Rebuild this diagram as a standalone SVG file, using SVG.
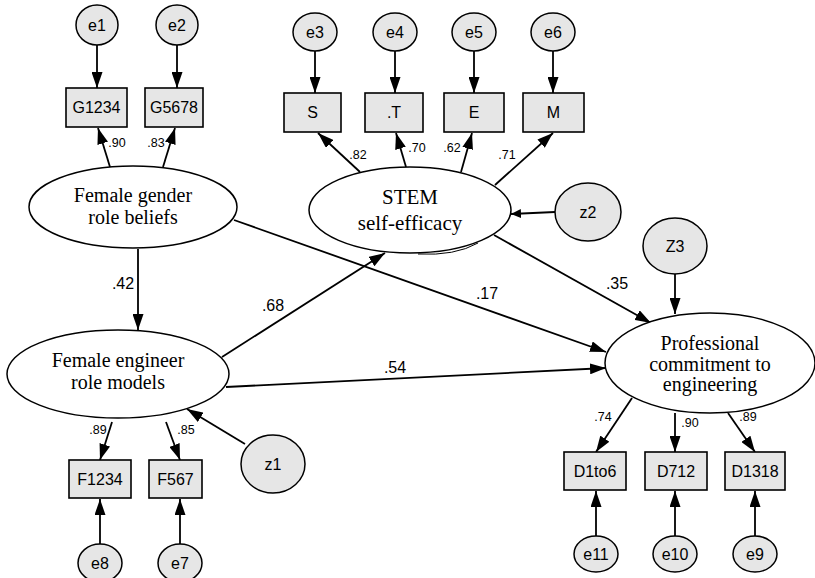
<svg xmlns="http://www.w3.org/2000/svg" width="815" height="578" viewBox="0 0 815 578">
<style>
.bg{fill:#ffffff}
.lat{fill:#ffffff;stroke:#000;stroke-width:1.5}
.obs{fill:#e6e6e6;stroke:#000;stroke-width:1.6}
.err{fill:#e6e6e6;stroke:#000;stroke-width:1.5}
.lt{font-family:"Liberation Serif","Times New Roman",serif;font-size:20px;text-anchor:middle;fill:#000}
.lt2{font-family:"Liberation Serif","Times New Roman",serif;font-size:21px;text-anchor:middle;fill:#000}
.st{font-family:"Liberation Sans",Arial,sans-serif;font-size:16px;text-anchor:middle;fill:#000}
.ld{font-family:"Liberation Sans",Arial,sans-serif;font-size:12.5px;text-anchor:middle;fill:#000}
.cf{font-family:"Liberation Sans",Arial,sans-serif;font-size:16px;text-anchor:middle;fill:#000}
.c{fill:none;stroke:#000;stroke-width:1.8;marker-end:url(#ah)}
.cs{fill:none;stroke:#000;stroke-width:1.8;marker-end:url(#ahs)}
</style>
<defs>
<marker id="ah" viewBox="0 0 16 11" refX="16" refY="5.5" markerWidth="16" markerHeight="11" markerUnits="userSpaceOnUse" orient="auto">
<path d="M0,0 L16,5.5 L0,11 z" fill="#000"/>
</marker>
<marker id="ahs" viewBox="0 0 10 9" refX="10" refY="4.5" markerWidth="10" markerHeight="9" markerUnits="userSpaceOnUse" orient="auto">
<path d="M0,0 L10,4.5 L0,9 z" fill="#000"/>
</marker>
</defs>
<rect class="bg" x="0" y="0" width="815" height="578"/>

<g id="connectors">
<line class="c" x1="97" y1="45" x2="97" y2="88"/>
<line class="c" x1="177" y1="45" x2="177" y2="88"/>
<line class="c" x1="110" y1="167" x2="98" y2="128"/>
<line class="c" x1="163" y1="167" x2="175" y2="128"/>
<line class="c" x1="315" y1="51" x2="315" y2="93"/>
<line class="c" x1="395" y1="51" x2="395" y2="93"/>
<line class="c" x1="474" y1="51" x2="474" y2="93"/>
<line class="c" x1="553" y1="51" x2="553" y2="93"/>
<line class="c" x1="360" y1="172" x2="318" y2="133"/>
<line class="c" x1="406" y1="167" x2="396" y2="133"/>
<line class="c" x1="461" y1="172" x2="472" y2="133"/>
<line class="c" x1="495" y1="185" x2="553" y2="133"/>
<line class="cs" x1="555" y1="212" x2="511" y2="214"/>
<line class="c" x1="138" y1="249" x2="138" y2="330"/>
<line class="c" x1="222" y1="357" x2="385" y2="253"/>
<line class="c" x1="234" y1="220" x2="606" y2="352"/>
<line class="c" x1="226" y1="387" x2="606" y2="368"/>
<line class="c" x1="494" y1="235" x2="651" y2="323"/>
<line class="c" x1="675" y1="274" x2="675" y2="314"/>
<line class="c" x1="632" y1="398" x2="596" y2="452"/>
<line class="c" x1="675" y1="413" x2="675" y2="452"/>
<line class="c" x1="728" y1="413" x2="755" y2="452"/>
<line class="c" x1="596" y1="536" x2="596" y2="491"/>
<line class="c" x1="675" y1="536" x2="675" y2="491"/>
<line class="c" x1="755" y1="536" x2="755" y2="491"/>
<line class="c" x1="112" y1="422" x2="100" y2="460"/>
<line class="c" x1="166" y1="422" x2="180" y2="460"/>
<line class="c" x1="100" y1="544" x2="100" y2="499"/>
<line class="c" x1="180" y1="544" x2="180" y2="499"/>
<line class="c" x1="245" y1="444" x2="187" y2="409"/>
<path d="M418,254 Q455,256 478,243" fill="none" stroke="#000" stroke-width="1"/>
</g>

<g id="labels">
<text class="ld" x="117" y="147">.90</text>
<text class="ld" x="156" y="147">.83</text>
<text class="ld" x="358" y="159">.82</text>
<text class="ld" x="417" y="152">.70</text>
<text class="ld" x="452" y="152">.62</text>
<text class="ld" x="507" y="159">.71</text>
<text class="cf" x="123" y="289">.42</text>
<text class="cf" x="273" y="311">.68</text>
<text class="cf" x="487" y="299">.17</text>
<text class="cf" x="617" y="289">.35</text>
<text class="cf" x="395" y="373">.54</text>
<text class="ld" x="603" y="421">.74</text>
<text class="ld" x="690" y="427">.90</text>
<text class="ld" x="748" y="421">.89</text>
<text class="ld" x="98" y="434">.89</text>
<text class="ld" x="186" y="434">.85</text>
</g>

<g id="e1"><ellipse class="err" cx="97" cy="25" rx="21" ry="20"/><text class="st" x="97" y="31">e1</text></g>
<g id="e2"><ellipse class="err" cx="177" cy="25" rx="21" ry="20"/><text class="st" x="177" y="31">e2</text></g>
<g id="G1234"><rect class="obs" x="66" y="88" width="61" height="39"/><text class="st" x="96.5" y="113">G1234</text></g>
<g id="G5678"><rect class="obs" x="145" y="88" width="58" height="39"/><text class="st" x="174" y="113">G5678</text></g>

<g id="e3"><ellipse class="err" cx="315" cy="32" rx="22" ry="19"/><text class="st" x="315" y="38">e3</text></g>
<g id="e4"><ellipse class="err" cx="395" cy="32" rx="22" ry="19"/><text class="st" x="395" y="38">e4</text></g>
<g id="e5"><ellipse class="err" cx="474" cy="32" rx="22" ry="19"/><text class="st" x="474" y="38">e5</text></g>
<g id="e6"><ellipse class="err" cx="553" cy="32" rx="22" ry="19"/><text class="st" x="553" y="38">e6</text></g>
<g id="S"><rect class="obs" x="284" y="93" width="57" height="39"/><text class="st" x="312.5" y="118">S</text></g>
<g id="T"><rect class="obs" x="365" y="93" width="58" height="39"/><text class="st" x="394" y="118">.T</text></g>
<g id="E"><rect class="obs" x="444" y="93" width="60" height="39"/><text class="st" x="474" y="118">E</text></g>
<g id="M"><rect class="obs" x="523" y="93" width="61" height="39"/><text class="st" x="553.5" y="118">M</text></g>

<g id="gender"><ellipse class="lat" cx="133" cy="207" rx="104" ry="41"/><text class="lt" x="133" y="202">Female gender</text><text class="lt" x="133" y="224">role beliefs</text></g>
<g id="stem"><ellipse class="lat" cx="410" cy="210" rx="101" ry="43"/><text class="lt2" x="410" y="204">STEM</text><text class="lt2" x="410" y="230">self-efficacy</text></g>
<g id="z2"><ellipse class="err" cx="588" cy="212" rx="33" ry="29"/><text class="st" x="588" y="218">z2</text></g>

<g id="engineer"><ellipse class="lat" cx="118" cy="374" rx="111" ry="44"/><text class="lt" x="118" y="367">Female engineer</text><text class="lt" x="118" y="389">role models</text></g>
<g id="z1"><ellipse class="err" cx="273" cy="464" rx="32" ry="29"/><text class="st" x="273" y="470">z1</text></g>
<g id="F1234"><rect class="obs" x="69" y="460" width="62" height="38"/><text class="st" x="100" y="485">F1234</text></g>
<g id="F567"><rect class="obs" x="149" y="460" width="53" height="38"/><text class="st" x="175.5" y="485">F567</text></g>
<g id="e8"><ellipse class="err" cx="100" cy="563" rx="22" ry="19"/><text class="st" x="100" y="569">e8</text></g>
<g id="e7"><ellipse class="err" cx="180" cy="563" rx="22" ry="19"/><text class="st" x="180" y="569">e7</text></g>

<g id="Z3"><ellipse class="err" cx="675" cy="246" rx="32" ry="28"/><text class="st" x="675" y="252">Z3</text></g>
<g id="prof"><ellipse class="lat" cx="710" cy="363" rx="105" ry="50"/><text class="lt" x="710" y="350">Professional</text><text class="lt" x="710" y="371">commitment to</text><text class="lt" x="710" y="391">engineering</text></g>
<g id="D1to6"><rect class="obs" x="564" y="452" width="62" height="38"/><text class="st" x="595" y="477">D1to6</text></g>
<g id="D712"><rect class="obs" x="645" y="452" width="62" height="38"/><text class="st" x="676" y="477">D712</text></g>
<g id="D1318"><rect class="obs" x="725" y="452" width="60" height="38"/><text class="st" x="755" y="477">D1318</text></g>
<g id="e11"><ellipse class="err" cx="596" cy="554" rx="22" ry="18"/><text class="st" x="596" y="560">e11</text></g>
<g id="e10"><ellipse class="err" cx="675" cy="554" rx="22" ry="18"/><text class="st" x="675" y="560">e10</text></g>
<g id="e9"><ellipse class="err" cx="755" cy="554" rx="22" ry="18"/><text class="st" x="755" y="560">e9</text></g>
</svg>
